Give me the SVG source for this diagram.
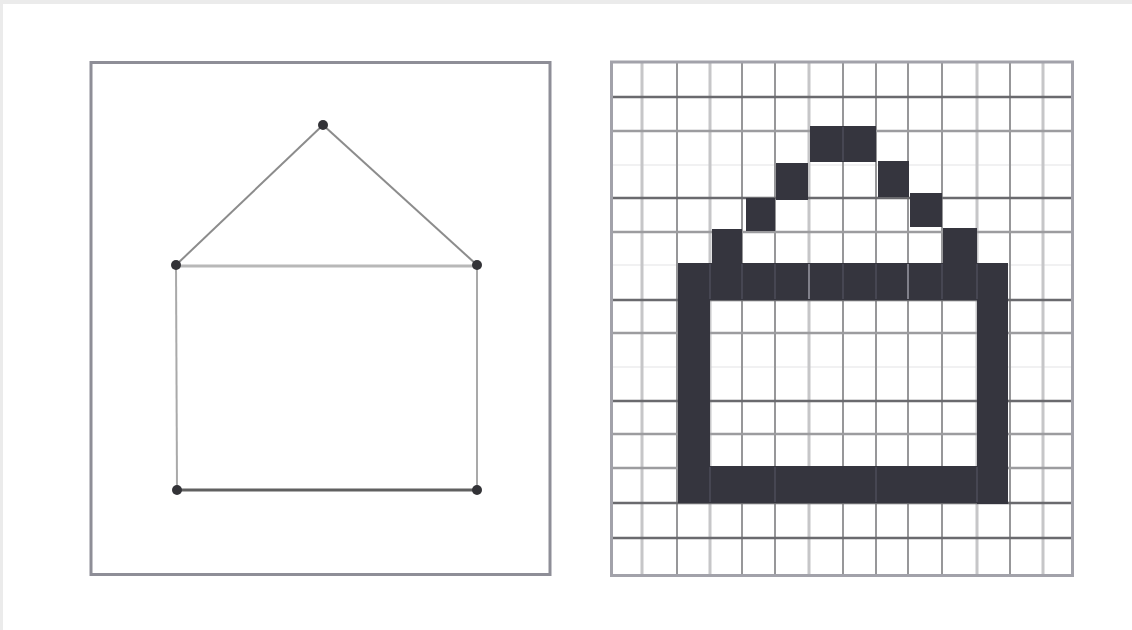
<svg xmlns="http://www.w3.org/2000/svg" width="1132" height="630" viewBox="0 0 1132 630">
  <style>
    .frame { fill: none; stroke: #8e8e97; stroke-width: 3; }
    .gframe { fill: none; stroke: #a2a2aa; stroke-width: 3; }
    .vl { stroke: #c6c6c8; stroke-width: 3; }
    .vd { stroke: #979799; stroke-width: 2; }
    .hd { stroke: #6a6a6e; stroke-width: 2.5; }
    .hm { stroke: #9c9c9f; stroke-width: 2.5; }
    .hf { stroke: #ededee; stroke-width: 1.5; }
    .px { fill: #35353e; }
    .sep { stroke: #4c4c5a; stroke-width: 1.5; }
    .sepl { stroke: #9a9aa4; stroke-width: 1.5; }
    .dot { fill: #333337; }
    .roof { stroke: #8c8c8c; stroke-width: 2; fill: none; }
    .eave { stroke: #b8b8b8; stroke-width: 3; fill: none; }
    .wall { stroke: #a9a9a9; stroke-width: 2; fill: none; }
    .base { stroke: #606060; stroke-width: 3; fill: none; }
  </style>
  <rect x="0" y="0" width="1132" height="630" fill="#ebebeb"/>
  <rect x="3" y="4" width="1129" height="626" fill="#ffffff"/>

  <!-- Left panel: vector house -->
  <g id="left-panel">
    <rect class="frame" x="91" y="62.5" width="459" height="512"/>
  </g>
  <g id="connectors">
    <line class="roof" x1="176" y1="265" x2="323" y2="125"/>
    <line class="roof" x1="323" y1="125" x2="477" y2="265"/>
    <line class="eave" x1="176" y1="266" x2="477" y2="266"/>
    <line class="wall" x1="176" y1="265" x2="177" y2="490"/>
    <line class="wall" x1="477" y1="265" x2="477" y2="490"/>
    <line class="base" x1="177" y1="490" x2="477" y2="490"/>
  </g>
  <g id="vertex-apex"><circle class="dot" cx="323" cy="125" r="5"/></g>
  <g id="vertex-left-eave"><circle class="dot" cx="176" cy="265" r="5"/></g>
  <g id="vertex-right-eave"><circle class="dot" cx="477" cy="265" r="5"/></g>
  <g id="vertex-bottom-left"><circle class="dot" cx="177" cy="490" r="5"/></g>
  <g id="vertex-bottom-right"><circle class="dot" cx="477" cy="490" r="5"/></g>

  <!-- Right panel: raster grid house -->
  <g id="right-panel">
    <g id="grid">
      <line class="hf" x1="611" y1="165" x2="1073" y2="165"/>
      <line class="hf" x1="611" y1="265" x2="1073" y2="265"/>
      <line class="hf" x1="611" y1="367" x2="1073" y2="367"/>
      <line class="vl" x1="642" y1="63" x2="642" y2="576"/>
      <line class="vd" x1="677" y1="63" x2="677" y2="576"/>
      <line class="vl" x1="710" y1="63" x2="710" y2="576"/>
      <line class="vd" x1="742" y1="63" x2="742" y2="576"/>
      <line class="vd" x1="775" y1="63" x2="775" y2="576"/>
      <line class="vl" x1="809" y1="63" x2="809" y2="576"/>
      <line class="vd" x1="843" y1="63" x2="843" y2="576"/>
      <line class="vd" x1="876" y1="63" x2="876" y2="576"/>
      <line class="vd" x1="908" y1="63" x2="908" y2="576"/>
      <line class="vd" x1="942" y1="63" x2="942" y2="576"/>
      <line class="vl" x1="977" y1="63" x2="977" y2="576"/>
      <line class="vd" x1="1010" y1="63" x2="1010" y2="576"/>
      <line class="vl" x1="1043" y1="63" x2="1043" y2="576"/>
      <line class="hd" x1="611" y1="97" x2="1073" y2="97"/>
      <line class="hm" x1="611" y1="131" x2="1073" y2="131"/>
      <line class="hd" x1="611" y1="198" x2="1073" y2="198"/>
      <line class="hm" x1="611" y1="232" x2="1073" y2="232"/>
      <line class="hd" x1="611" y1="300" x2="1073" y2="300"/>
      <line class="hm" x1="611" y1="333" x2="1073" y2="333"/>
      <line class="hd" x1="611" y1="401" x2="1073" y2="401"/>
      <line class="hm" x1="611" y1="434" x2="1073" y2="434"/>
      <line class="hm" x1="611" y1="468" x2="1073" y2="468"/>
      <line class="hd" x1="611" y1="503" x2="1073" y2="503"/>
      <line class="hd" x1="611" y1="538" x2="1073" y2="538"/>
      <rect class="gframe" x="611.5" y="62" width="461" height="513.5"/>
    </g>
    <g id="pixels">
      <rect class="px" x="810" y="126" width="66" height="36"/>
      <rect class="px" x="776" y="163" width="32" height="37"/>
      <rect class="px" x="878" y="161" width="31" height="36"/>
      <rect class="px" x="746" y="198" width="29" height="33"/>
      <rect class="px" x="910" y="193" width="32" height="34"/>
      <rect class="px" x="712" y="229" width="30" height="35"/>
      <rect class="px" x="943" y="228" width="34" height="36"/>
      <rect class="px" x="678" y="263" width="330" height="37"/>
      <rect class="px" x="678" y="263" width="32" height="240"/>
      <rect class="px" x="977" y="263" width="31" height="241"/>
      <rect class="px" x="678" y="466" width="330" height="37"/>
    </g>
    <g id="pixel-seams">
      <line class="sep" x1="843" y1="127" x2="843" y2="161"/>
      <line class="sep" x1="710" y1="264" x2="710" y2="299"/>
      <line class="sep" x1="742" y1="264" x2="742" y2="299"/>
      <line class="sep" x1="775" y1="264" x2="775" y2="299"/>
      <line class="sepl" x1="809" y1="264" x2="809" y2="299"/>
      <line class="sep" x1="843" y1="264" x2="843" y2="299"/>
      <line class="sep" x1="876" y1="264" x2="876" y2="299"/>
      <line class="sepl" x1="908" y1="264" x2="908" y2="299"/>
      <line class="sep" x1="942" y1="264" x2="942" y2="299"/>
      <line class="sep" x1="977" y1="264" x2="977" y2="299"/>
      <line class="sep" x1="710" y1="467" x2="710" y2="502"/>
      <line class="sep" x1="775" y1="467" x2="775" y2="502"/>
      <line class="sep" x1="876" y1="467" x2="876" y2="502"/>
      <line class="sep" x1="977" y1="467" x2="977" y2="502"/>
    </g>
  </g>
</svg>
